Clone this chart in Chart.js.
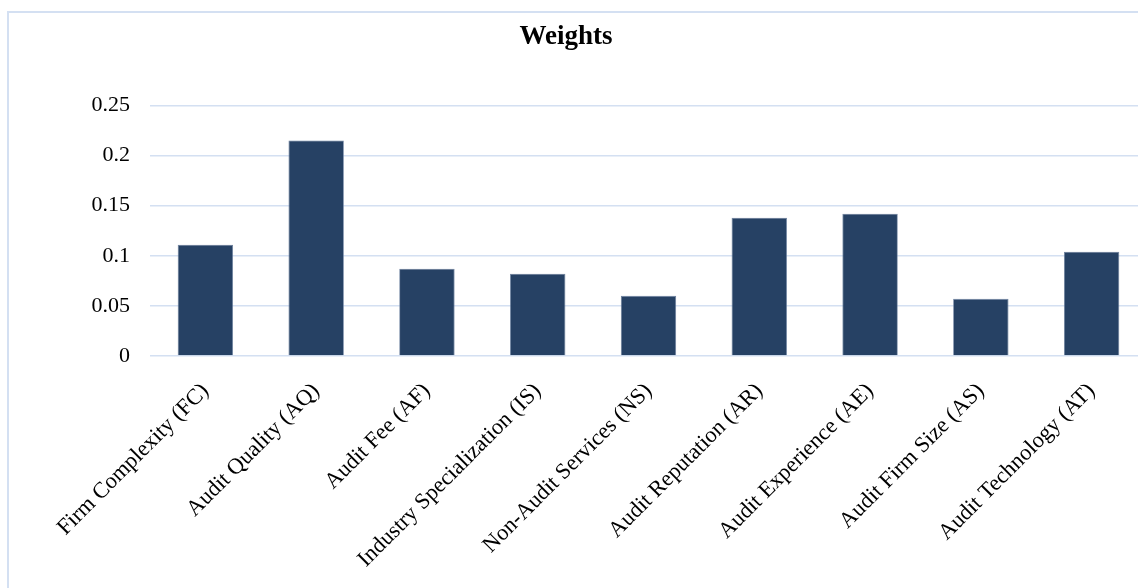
<!DOCTYPE html>
<html>
<head>
<meta charset="utf-8">
<script src="https://cdn.jsdelivr.net/npm/chart.js@4"></script>
<style>
  html, body { margin: 0; padding: 0; background: #ffffff; overflow: hidden; width: 1138px; height: 588px; }
  #frame { position: absolute; left: 7px; top: 11px; width: 1200px; height: 700px;
           border-left: 2px solid #D4E0F2; border-top: 2px solid #D4E0F2; box-sizing: border-box; }
  #wrap { position: absolute; left: -15px; top: 0; width: 1175px; height: 588px; }
</style>
</head>
<body>
<div id="frame"></div>
<div id="wrap"><canvas id="c"></canvas></div>
<script>
const categories = [
  'Firm Complexity (FC)', 'Audit Quality (AQ)', 'Audit Fee (AF)',
  'Industry Specialization (IS)', 'Non-Audit Services (NS)', 'Audit Reputation (AR)',
  'Audit Experience (AE)', 'Audit Firm Size (AS)', 'Audit Technology (AT)'
];
const weights = [0.111, 0.215, 0.087, 0.082, 0.060, 0.138, 0.142, 0.057, 0.104];
const yTickValues = [0, 0.05, 0.1, 0.15, 0.2, 0.25];
const yTickLabels = ['0', '0.05', '0.1', '0.15', '0.2', '0.25'];
const chartTitle = 'Weights';

const serif = '"Liberation Serif", "Times New Roman", serif';

new Chart(document.getElementById('c'), {
  type: 'bar',
  data: {
    labels: categories,
    datasets: [{
      label: chartTitle,
      data: weights,
      backgroundColor: '#264164',
      borderColor: '#6a7f9e',
      borderWidth: 0.8,
      categoryPercentage: 1.0,
      barPercentage: 0.5
    }]
  },
  options: {
    responsive: true,
    maintainAspectRatio: false,
    animation: false,
    layout: { padding: { left: 0, right: 13, top: 0, bottom: 0 } },
    plugins: {
      legend: { display: false },
      tooltip: { enabled: false },
      title: {
        display: true,
        text: chartTitle,
        color: '#000000',
        font: { family: serif, size: 27, weight: 'bold' },
        padding: { top: 21, bottom: 52 }
      }
    },
    scales: {
      x: {
        grid: { display: false, drawTicks: false },
        border: { display: false },
        ticks: {
          color: '#000000',
          font: { family: serif, size: 22.5 },
          minRotation: 45,
          maxRotation: 45,
          autoSkip: false,
          padding: 22
        },
        afterFit(scale) {
          scale.height = 232;
          scale.paddingLeft = 0;
          scale.paddingRight = 0;
        }
      },
      y: {
        min: 0,
        max: 0.25,
        afterBuildTicks(scale) {
          scale.ticks = yTickValues.map(v => ({ value: v }));
        },
        grid: { color: '#D4E0F2', lineWidth: 1.6, drawTicks: false },
        border: { display: false },
        ticks: {
          color: '#000000',
          font: { family: serif, size: 22 },
          padding: 20,
          callback: (v, i) => yTickLabels[i]
        },
        afterFit(scale) { scale.width = 165; }
      }
    }
  }
});
</script>
</body>
</html>
